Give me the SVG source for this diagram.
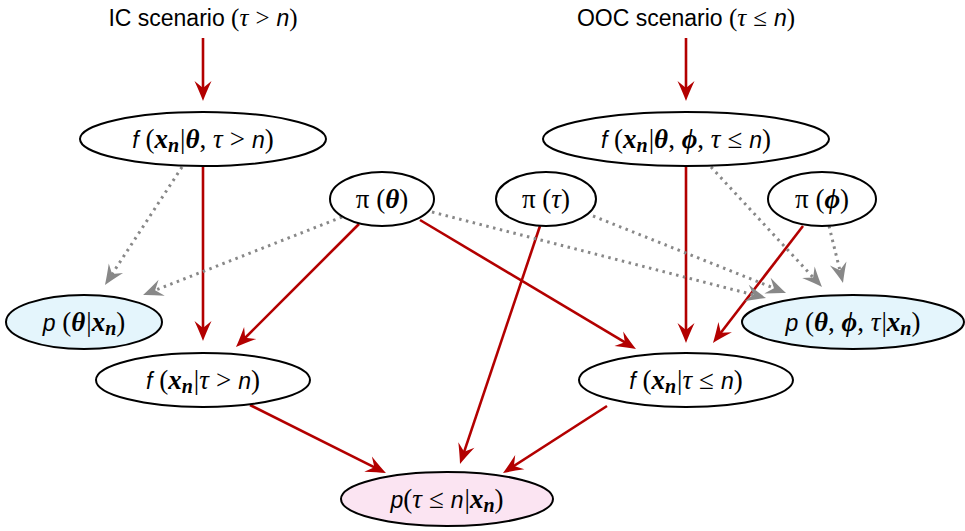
<svg xmlns="http://www.w3.org/2000/svg" width="965" height="531" viewBox="0 0 965 531">
<style>
.t{font-family:"Liberation Serif","DejaVu Serif",serif;font-size:27px;fill:#000}
.lab{font-family:"Liberation Serif","DejaVu Serif",serif;font-size:25px;fill:#000}
.sf{font-family:"Liberation Sans","DejaVu Sans",sans-serif;font-size:23px}
.si{font-family:"Liberation Sans","DejaVu Sans",sans-serif;font-style:italic;font-size:23px}
.bm{font-family:"Liberation Serif","DejaVu Serif",serif;font-weight:bold;font-style:italic}
.gi{font-style:italic}
.sub{font-family:"Liberation Serif","DejaVu Serif",serif;font-weight:bold;font-style:italic;font-size:20px}
.nd{fill:#fff;stroke:#000;stroke-width:2}
.blue{fill:#e4f5fc}
.pink{fill:#fbe4f2}
.red{fill:none;stroke:#b30000;stroke-width:2.6;marker-end:url(#ar)}
.gry{fill:none;stroke:#888;stroke-width:3;stroke-dasharray:2.5 4.5;marker-end:url(#ag)}
</style>
<defs>
<marker id="ar" markerUnits="userSpaceOnUse" viewBox="-21 -10 22 20" refX="-5" refY="0" markerWidth="22" markerHeight="20" orient="auto">
<path d="M0,0 Q-8,-3 -20,-8.5 L-13,0 L-20,8.5 Q-8,3 0,0 Z" fill="#b30000"/>
</marker>
<marker id="ag" markerUnits="userSpaceOnUse" viewBox="-21 -10 22 20" refX="-5" refY="0" markerWidth="22" markerHeight="20" orient="auto">
<path d="M0,0 Q-8,-3 -20,-8.5 L-13,0 L-20,8.5 Q-8,3 0,0 Z" fill="#888"/>
</marker>
</defs>

<g id="connectors">
<path class="red" d="M203,38 L203,96"/>
<path class="red" d="M686,38 L686,96"/>
<path class="red" d="M203,166 L203,336"/>
<path class="red" d="M359,224 L239.5,343.5"/>
<path class="red" d="M420,220 L631.7,346.4"/>
<path class="red" d="M540,226 L461.6,459.3"/>
<path class="red" d="M686,166 L686,338"/>
<path class="red" d="M803,226 L716,339"/>
<path class="red" d="M250,405 L381.5,470.8"/>
<path class="red" d="M607,406 L507.2,470.3"/>
<path class="gry" d="M182,167 L107.7,280.8"/>
<path class="gry" d="M342,217 L147.7,293.2"/>
<path class="gry" d="M432,212 L761.2,296.8"/>
<path class="gry" d="M593,216 L781.4,291.1"/>
<path class="gry" d="M711,167 L818.6,283.3"/>
<path class="gry" d="M829,226 L841.8,278.1"/>
</g>

<g id="ic">
<text class="lab" x="203" y="26" text-anchor="middle"><tspan class="sf">IC scenario </tspan>(<tspan class="gi">τ</tspan><tspan dx="7">&gt;</tspan><tspan class="si" dx="7">n</tspan>)</text>
</g>
<g id="ooc">
<text class="lab" x="686" y="26" text-anchor="middle"><tspan class="sf">OOC scenario </tspan>(<tspan class="gi">τ</tspan><tspan dx="7">≤</tspan><tspan class="si" dx="7">n</tspan>)</text>
</g>

<g id="f_ic">
<ellipse class="nd" cx="203" cy="139" rx="123" ry="27"/>
<text class="t" x="203" y="148" text-anchor="middle"><tspan class="si">f</tspan> (<tspan class="bm">x</tspan><tspan class="sub" dy="4">n</tspan><tspan dy="-4" dx="1">|</tspan><tspan class="bm">θ</tspan>, <tspan class="gi">τ</tspan><tspan dx="7">&gt;</tspan><tspan class="si" dx="7">n</tspan>)</text>
</g>
<g id="f_ooc">
<ellipse class="nd" cx="686" cy="139" rx="143" ry="27"/>
<text class="t" x="686" y="148" text-anchor="middle"><tspan class="si">f</tspan> (<tspan class="bm">x</tspan><tspan class="sub" dy="4">n</tspan><tspan dy="-4" dx="1">|</tspan><tspan class="bm">θ</tspan>, <tspan class="bm">ϕ</tspan>, <tspan class="gi">τ</tspan><tspan dx="7">≤</tspan><tspan class="si" dx="7">n</tspan>)</text>
</g>
<g id="pi_theta">
<ellipse class="nd" cx="382" cy="199" rx="52" ry="27"/>
<text class="t" x="382" y="208" text-anchor="middle">π (<tspan class="bm">θ</tspan>)</text>
</g>
<g id="pi_tau">
<ellipse class="nd" cx="546" cy="199" rx="50" ry="27"/>
<text class="t" x="546" y="208" text-anchor="middle">π (<tspan class="gi">τ</tspan>)</text>
</g>
<g id="pi_phi">
<ellipse class="nd" cx="822" cy="199" rx="54" ry="27"/>
<text class="t" x="822" y="208" text-anchor="middle">π (<tspan class="bm">ϕ</tspan>)</text>
</g>
<g id="post_ic">
<ellipse class="nd blue" cx="84" cy="322" rx="78" ry="27"/>
<text class="t" x="84" y="331" text-anchor="middle"><tspan class="si">p</tspan> (<tspan class="bm">θ</tspan><tspan dx="1">|</tspan><tspan class="bm">x</tspan><tspan class="sub" dy="4">n</tspan><tspan dy="-4">)</tspan></text>
</g>
<g id="post_ooc">
<ellipse class="nd blue" cx="853" cy="322" rx="111" ry="27"/>
<text class="t" x="853" y="331" text-anchor="middle"><tspan class="si">p</tspan> (<tspan class="bm">θ</tspan>, <tspan class="bm">ϕ</tspan>, <tspan class="gi">τ</tspan><tspan dx="1">|</tspan><tspan class="bm">x</tspan><tspan class="sub" dy="4">n</tspan><tspan dy="-4">)</tspan></text>
</g>
<g id="marg_ic">
<ellipse class="nd" cx="203" cy="380" rx="107" ry="27"/>
<text class="t" x="203" y="389" text-anchor="middle"><tspan class="si">f</tspan> (<tspan class="bm">x</tspan><tspan class="sub" dy="4">n</tspan><tspan dy="-4" dx="1">|</tspan><tspan class="gi">τ</tspan><tspan dx="7">&gt;</tspan><tspan class="si" dx="7">n</tspan>)</text>
</g>
<g id="marg_ooc">
<ellipse class="nd" cx="686" cy="380" rx="107" ry="27"/>
<text class="t" x="686" y="389" text-anchor="middle"><tspan class="si">f</tspan> (<tspan class="bm">x</tspan><tspan class="sub" dy="4">n</tspan><tspan dy="-4" dx="1">|</tspan><tspan class="gi">τ</tspan><tspan dx="7">≤</tspan><tspan class="si" dx="7">n</tspan>)</text>
</g>
<g id="result">
<ellipse class="nd pink" cx="447" cy="499" rx="106" ry="27"/>
<text class="t" x="447" y="508" text-anchor="middle"><tspan class="si">p</tspan>(<tspan class="gi">τ</tspan><tspan dx="7">≤</tspan><tspan class="si" dx="7">n</tspan><tspan dx="1">|</tspan><tspan class="bm">x</tspan><tspan class="sub" dy="4">n</tspan><tspan dy="-4">)</tspan></text>
</g>
</svg>
